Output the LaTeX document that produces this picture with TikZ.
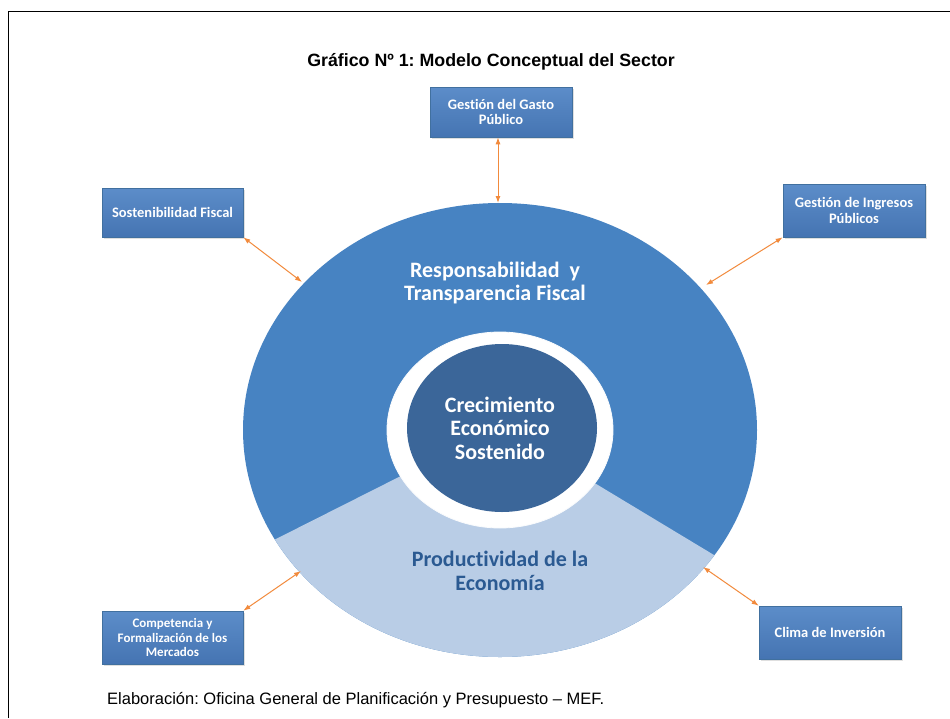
\documentclass[tikz,border=0pt]{standalone}
\usepackage{fontspec}
\setmainfont{Liberation Sans}
\newfontfamily\carlitofont[Ligatures={NoCommon}]{Carlito}
\usetikzlibrary{arrows.meta,shadows,shapes.geometric}
\definecolor{midblue}{HTML}{4783C2}
\definecolor{lightblue}{HTML}{B9CDE6}
\definecolor{darkblue}{HTML}{3B6699}
\definecolor{txtblue}{HTML}{2B5A92}
\definecolor{boxtop}{HTML}{5C8DC9}
\definecolor{boxbot}{HTML}{4574B2}
\definecolor{boxline}{HTML}{41709F}
\definecolor{arrorange}{HTML}{F28A3C}
\tikzset{
  sidebox/.style={rectangle, top color=boxtop, bottom color=boxbot, draw=boxline, line width=0.6pt,
    text=white, font=\carlitofont\bfseries\fontsize{14.5}{15.5}\selectfont, align=center, inner sep=0pt,
    drop shadow={shadow xshift=2pt, shadow yshift=-2pt, opacity=0.25}},
  link/.style={draw=arrorange, line width=1pt, {Latex[length=7pt,width=5pt]}-{Latex[length=7pt,width=5pt]}},
  bigtext/.style={font=\carlitofont\bfseries\fontsize{22}{23.5}\selectfont, align=center, inner sep=0pt}
}
\begin{document}
\frenchspacing
\begin{tikzpicture}[x=1pt,y=-1pt]
\useasboundingbox (0,0) rectangle (950,718);
\fill[white] (0,0) rectangle (950,718);
% frame
\draw[line width=1.3pt] (8.5,718) -- (8.5,11.5) -- (950,11.5);
% title
\node[font=\bfseries\fontsize{17.8}{20}\selectfont, inner sep=0pt] (title) at (491,62) {Gráfico Nº 1: Modelo Conceptual del Sector};
% big ellipse
\node[ellipse, fill=midblue, minimum width=514pt, minimum height=454pt, inner sep=0pt] (outer) at (500,430) {};
\begin{scope}
  \clip (500,430) ellipse [x radius=257pt, y radius=227pt];
  \fill[lightblue] (500,426) -- (149,603) -- (149,720) -- (850,720) -- (850,637) -- cycle;
\end{scope}
% white ring and core
\node[ellipse, fill=white, draw=white!92!lightblue, line width=0.8pt, minimum width=226pt, minimum height=196pt, inner sep=0pt] (ring) at (500,430) {};
\node[ellipse, fill=darkblue, minimum width=190pt, minimum height=168pt, inner sep=0pt] (core) at (502,428) {};
% texts
\node[bigtext, text=white] (resp) at (495,283) {Responsabilidad\ \ y\\Transparencia Fiscal};
\node[bigtext, text=white] (crec) at (500,428) {Crecimiento\\Económico\\Sostenido};
\node[bigtext, text=txtblue] (prod) at (500,571) {Productividad de la\\Economía};
% boxes
\node[sidebox, minimum width=142pt, minimum height=50pt] (gasto) at (501,112) {Gestión del Gasto\\Público};
\node[sidebox, minimum width=141pt, minimum height=49pt] (sost) at (172.5,212.5) {Sostenibilidad Fiscal};
\node[sidebox, minimum width=142pt, minimum height=53pt] (ingr) at (854,210.5) {Gestión de Ingresos\\Públicos};
\node[sidebox, minimum width=141pt, minimum height=53pt, font=\carlitofont\bfseries\fontsize{13}{14.5}\selectfont] (comp) at (172.5,637.5) {Competencia y\\Formalización de los\\Mercados};
\node[sidebox, minimum width=142pt, minimum height=53pt] (clima) at (830,632.5) {Clima de Inversión};
% connector ends on the ellipse
\coordinate (eTop) at (498,203);
\coordinate (eNW) at (302,282);
\coordinate (eNE) at (706,285);
\coordinate (eSW) at (301,571);
\coordinate (eSE) at (703,567);
\draw[link] (gasto.south -| eTop) -- (eTop);
\draw[link] (sost.south east) -- (eNW);
\draw[link] (ingr.south west) -- (eNE);
\draw[link] (comp.north east) -- (eSW);
\draw[link] (clima.north west) -- (eSE);
% footer
\node[anchor=west, font=\fontsize{16.5}{18}\selectfont, inner sep=0pt] (foot) at (107,700) {Elaboración: Oficina General de Planificación y Presupuesto – MEF.};
\end{tikzpicture}
\end{document}
